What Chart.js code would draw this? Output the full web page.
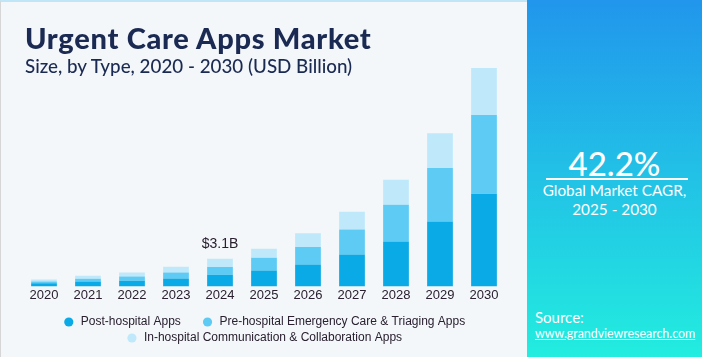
<!DOCTYPE html>
<html>
<head>
<meta charset="utf-8">
<script src="https://cdn.jsdelivr.net/npm/chart.js@4.4.1/dist/chart.umd.min.js"></script>
<style>
  html, body { margin: 0; padding: 0; }
  body { width: 702px; height: 357px; position: relative; overflow: hidden; background: #f3f7fa; }
  #left { position: absolute; left: 0; top: 0; width: 527px; height: 357px; background: #f3f7fa; border-top: 2px solid #bfe6f7; border-left: 1px solid #d6d6d6; box-sizing: border-box; }
  #chartWrap { position: absolute; left: 0; top: 0; width: 527px; height: 357px; }
  #title { position: absolute; left: 25px; top: 20px; font-family: Lato, sans-serif; font-weight: 900; font-size: 29px; letter-spacing: 0.7px; color: #1b2a52; white-space: nowrap; }
  #subtitle { position: absolute; left: 25px; top: 54px; font-family: Lato, sans-serif; font-weight: 500; font-size: 18.8px; color: #1b2a52; white-space: nowrap; }
  #right { position: absolute; left: 527px; top: 0; width: 175px; height: 357px; background: linear-gradient(180deg, #2196ec 0%, #22c2e6 50%, #22eddf 100%); color: #fff; font-family: Lato, sans-serif; }
  #cagr { position: absolute; left: 0; width: 175px; top: 145px; text-align: center; font-size: 33px; font-weight: 500; line-height: 36px; }
  #rule { position: absolute; left: 19px; width: 142px; top: 178px; height: 2px; background: #fff; }
  #cagrText { position: absolute; left: 0; width: 175px; top: 181px; text-align: center; font-size: 15.3px; line-height: 19px; }
  #source { position: absolute; left: 8px; top: 308px; font-size: 15px; }
  #url { position: absolute; left: 8px; top: 326px; font-size: 12.4px; text-decoration: underline; }
</style>
</head>
<body>
<div id="left"></div>
<div id="chartWrap"><canvas id="c" width="527" height="357"></canvas></div>
<div id="title">Urgent Care Apps Market</div>
<div id="subtitle">Size, by Type, 2020 - 2030 (USD Billion)</div>
<div id="right">
  <div id="cagr">42.2%</div>
  <div id="rule"></div>
  <div id="cagrText">Global Market CAGR,<br>2025 - 2030</div>
  <div id="source">Source:</div>
  <div id="url">www.grandviewresearch.com</div>
</div>
<script>
const years = ["2020","2021","2022","2023","2024","2025","2026","2027","2028","2029","2030"];
const postHospital = [0.34, 0.56, 0.64, 0.90, 1.31, 1.79, 2.46, 3.58, 5.04, 7.28, 10.42];
const preHospital  = [0.22, 0.30, 0.48, 0.67, 0.86, 1.42, 1.98, 2.80, 4.14, 6.01, 8.85];
const inHospital   = [0.22, 0.34, 0.45, 0.64, 0.93, 1.01, 1.53, 2.02, 2.80, 3.92, 5.26];
const seriesNames = ["Post-hospital Apps", "Pre-hospital Emergency Care & Triaging Apps", "In-hospital Communication & Collaboration Apps"];
const annotationIndex = 4;
const annotationText = "$3.1B";

const colors = ["#0aaae6", "#5ecbf5", "#bfe9fa"];
const legendFont = { family: '"Liberation Sans", Arial, sans-serif', size: 12 };

const labelPlugin = {
  id: 'annot',
  afterDatasetsDraw(chart) {
    const ctx = chart.ctx;
    const x = chart.scales.x.getPixelForValue(annotationIndex);
    const total = postHospital[annotationIndex] + preHospital[annotationIndex] + inHospital[annotationIndex];
    const y = chart.scales.y.getPixelForValue(total);
    ctx.save();
    ctx.font = '14px "Liberation Sans", Arial, sans-serif';
    ctx.fillStyle = '#2a2030';
    ctx.textAlign = 'center';
    ctx.textBaseline = 'alphabetic';
    ctx.fillText(annotationText, x, y - 11);
    ctx.restore();
  }
};

new Chart(document.getElementById('c'), {
  type: 'bar',
  data: {
    labels: years,
    datasets: [
      { label: seriesNames[0], data: postHospital, backgroundColor: colors[0] },
      { label: seriesNames[1], data: preHospital, backgroundColor: colors[1] },
      { label: seriesNames[2], data: inHospital, backgroundColor: colors[2] }
    ]
  },
  options: {
    responsive: false,
    animation: false,
    devicePixelRatio: 1,
    layout: { padding: { left: 22, right: 21, top: 55, bottom: 3 } },
    datasets: { bar: { categoryPercentage: 1.0, barPercentage: 0.585 } },
    scales: {
      x: {
        stacked: true,
        grid: { display: false, drawTicks: false },
        border: { display: false },
        ticks: { color: '#2a2030', font: { family: '"Liberation Sans", Arial, sans-serif', size: 13 }, padding: 1, maxRotation: 0 },
        afterFit(axis) { axis.height += 8; }
      },
      y: {
        stacked: true,
        display: false,
        min: 0,
        max: 26
      }
    },
    plugins: {
      legend: {
        position: 'bottom',
        labels: {
          usePointStyle: true,
          pointStyle: 'circle',
          boxWidth: 12,
          boxHeight: 6.5,
          padding: 4,
          color: '#2a2030',
          font: legendFont,
          generateLabels(chart) {
            const items = Chart.defaults.plugins.legend.labels.generateLabels(chart);
            items[0].text = items[0].text + '\u00a0\u00a0\u00a0\u00a0\u00a0';
            return items;
          }
        }
      },
      tooltip: { enabled: false }
    }
  },
  plugins: [labelPlugin]
});
</script>
</body>
</html>
